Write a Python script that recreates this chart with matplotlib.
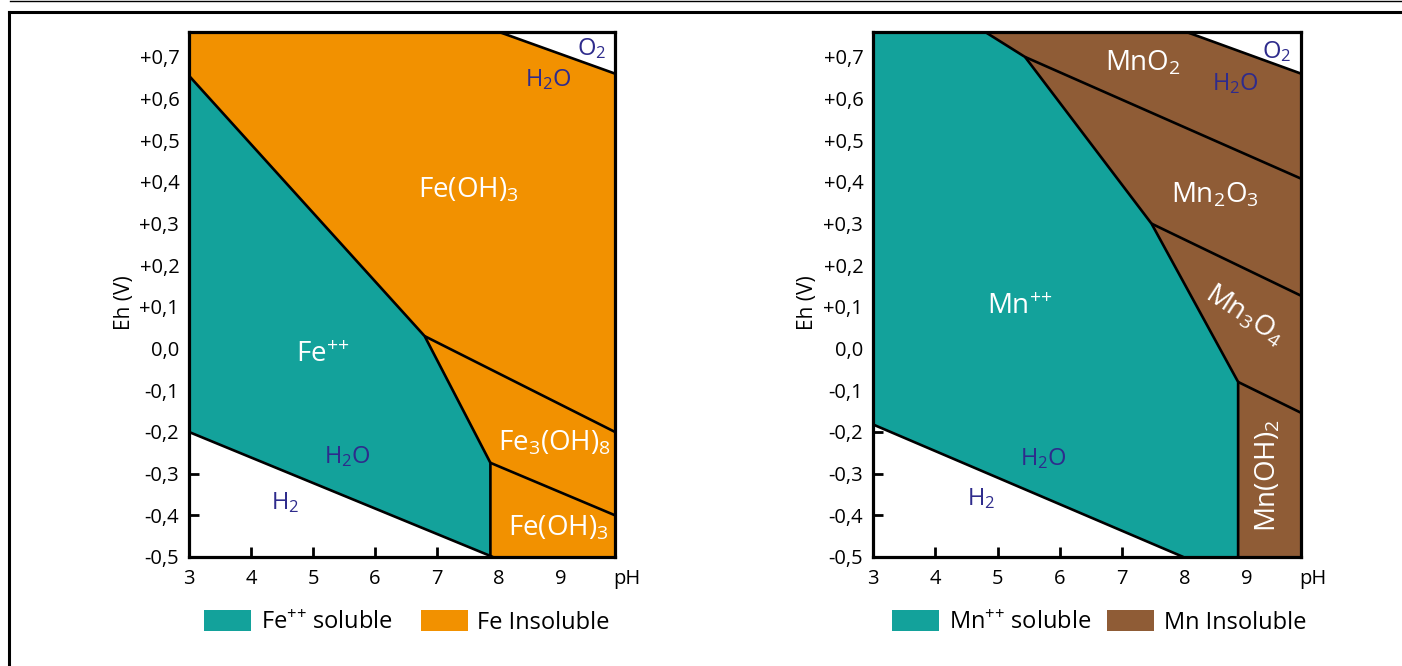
import matplotlib
matplotlib.use('Agg')
import matplotlib.pyplot as plt
from matplotlib.patches import Patch, Polygon
from matplotlib.lines import Line2D

plt.rcParams['font.family'] = ['Open Sans', 'DejaVu Sans']
plt.rcParams['mathtext.fontset'] = 'custom'
plt.rcParams['mathtext.rm'] = 'Open Sans'
plt.rcParams['mathtext.it'] = 'Open Sans:italic'
plt.rcParams['mathtext.bf'] = 'Open Sans:bold'

TEAL = '#13A29B'
ORANGE = '#F29100'
BROWN = '#8F5C36'
BLUE = '#2E2B8C'

PH_MIN, PH_MAX = 3.0, 9.87
EH_MIN, EH_MAX = -0.5, 0.76

ph_ticks = [3, 4, 5, 6, 7, 8, 9]
eh_ticks = [-0.5, -0.4, -0.3, -0.2, -0.1, 0.0, 0.1, 0.2, 0.3, 0.4, 0.5, 0.6, 0.7]
eh_labels = ['-0,5', '-0,4', '-0,3', '-0,2', '-0,1', '0,0',
             '+0,1', '+0,2', '+0,3', '+0,4', '+0,5', '+0,6', '+0,7']

# --- Fe diagram boundaries (pH, Eh) ---
fe_soluble_ph = [3.0, 6.80, 7.86, 7.86]
fe_soluble_eh = [0.655, 0.03, -0.274, -0.5]
fe_fe3oh8_top_ph = [6.80, PH_MAX]
fe_fe3oh8_top_eh = [0.03, -0.20]
fe_fe3oh8_bot_ph = [7.86, PH_MAX]
fe_fe3oh8_bot_eh = [-0.274, -0.40]
fe_h2_ph = [3.0, 7.90]
fe_h2_eh = [-0.20, -0.50]
fe_o2_ph = [8.0, PH_MAX]
fe_o2_eh = [0.76, 0.66]

# --- Mn diagram boundaries (pH, Eh) ---
mn_soluble_ph = [4.80, 5.44, 7.47, 8.86, 8.86]
mn_soluble_eh = [0.76, 0.70, 0.30, -0.08, -0.5]
mn_mno2_ph = [5.44, PH_MAX]
mn_mno2_eh = [0.70, 0.408]
mn_mn2o3_ph = [7.47, PH_MAX]
mn_mn2o3_eh = [0.30, 0.127]
mn_mn3o4_ph = [8.86, PH_MAX]
mn_mn3o4_eh = [-0.08, -0.154]
mn_h2_ph = [3.0, 7.98]
mn_h2_eh = [-0.182, -0.50]
mn_o2_ph = [8.03, PH_MAX]
mn_o2_eh = [0.76, 0.66]

fig = plt.figure(figsize=(14.02, 6.66), dpi=100)
ax_fe = fig.add_axes([0.1348, 0.1637, 0.3039, 0.7883])
ax_mn = fig.add_axes([0.6227, 0.1637, 0.3053, 0.7883])


def setup_axes(ax):
    ax.set_xlim(PH_MIN, PH_MAX)
    ax.set_ylim(EH_MIN, EH_MAX)
    ax.set_xticks(ph_ticks)
    ax.set_xticklabels([str(t) for t in ph_ticks])
    ax.set_yticks(eh_ticks)
    ax.set_yticklabels(eh_labels)
    ax.tick_params(direction='in', length=7, width=2, labelsize=14.5,
                   colors='black', pad=7)
    ax.tick_params(axis='x', pad=9)
    for sp in ax.spines.values():
        sp.set_linewidth(2.3)
        sp.set_zorder(6)
    ax.annotate('pH', xy=(1.028, 0), xycoords='axes fraction',
                xytext=(0, -9), textcoords='offset points',
                ha='center', va='top', fontsize=14.5)
    ax.text(-0.152, 0.484, 'Eh (V)', transform=ax.transAxes, rotation=90,
            ha='center', va='center', fontsize=15)


def boundary(ax, xs, ys):
    ax.plot(xs, ys, color='black', lw=1.9, zorder=4, solid_capstyle='butt')


# ===== Fe panel =====
ax = ax_fe
setup_axes(ax)
teal_pts = [(PH_MIN, fe_h2_eh[0])] + list(zip(fe_soluble_ph, fe_soluble_eh)) + \
           [(fe_h2_ph[1], fe_h2_eh[1])]
ax.add_patch(Polygon(teal_pts, closed=True, fc=TEAL, ec='none', zorder=3))
orange_pts = [(PH_MIN, fe_soluble_eh[0]), (PH_MIN, EH_MAX), (fe_o2_ph[0], fe_o2_eh[0]),
              (fe_o2_ph[1], fe_o2_eh[1]), (PH_MAX, EH_MIN)] + \
             list(zip(fe_soluble_ph[::-1], fe_soluble_eh[::-1]))
ax.add_patch(Polygon(orange_pts, closed=True, fc=ORANGE, ec='none', zorder=3))
for xs, ys in [(fe_soluble_ph, fe_soluble_eh), (fe_fe3oh8_top_ph, fe_fe3oh8_top_eh),
               (fe_fe3oh8_bot_ph, fe_fe3oh8_bot_eh), (fe_h2_ph, fe_h2_eh),
               (fe_o2_ph, fe_o2_eh)]:
    boundary(ax, xs, ys)

big = dict(color='white', fontsize=20, ha='center', va='center', zorder=5)
small = dict(color=BLUE, fontsize=17, ha='center', va='center', zorder=5)
ax.text(7.5, 0.38, r'Fe(OH)$_\mathregular{3}$', **big)
ax.text(5.15, -0.016, r'Fe$^{{+}{+}}$', **big)
ax.text(8.9, -0.228, r'Fe$_\mathregular{3}$(OH)$_\mathregular{8}$', **big)
ax.text(8.95, -0.43, r'Fe(OH)$_\mathregular{3}$', **big)
ax.text(8.8, 0.645, r'H$_\mathregular{2}$O', **small)
ax.text(9.5, 0.72, r'O$_\mathregular{2}$', **small)
ax.text(5.55, -0.26, r'H$_\mathregular{2}$O', **small)
ax.text(4.55, -0.37, r'H$_\mathregular{2}$', **small)

ax.legend(handles=[Patch(fc=TEAL, ec='none', label=r'Fe$^{{+}{+}}$ soluble'),
                   Patch(fc=ORANGE, ec='none', label='Fe Insoluble')],
          loc='center left', bbox_to_anchor=(0.035, -0.125), ncol=2, frameon=False,
          fontsize=17, handlelength=2.0, handleheight=1.0, handletextpad=0.4,
          columnspacing=1.2, borderpad=0, borderaxespad=0)

# ===== Mn panel =====
ax = ax_mn
setup_axes(ax)
teal_pts = [(PH_MIN, mn_h2_eh[0]), (PH_MIN, EH_MAX)] + \
           list(zip(mn_soluble_ph, mn_soluble_eh)) + [(mn_h2_ph[1], mn_h2_eh[1])]
ax.add_patch(Polygon(teal_pts, closed=True, fc=TEAL, ec='none', zorder=3))
brown_pts = [(mn_o2_ph[0], mn_o2_eh[0]), (mn_o2_ph[1], mn_o2_eh[1]), (PH_MAX, EH_MIN)] + \
            list(zip(mn_soluble_ph[::-1], mn_soluble_eh[::-1]))
ax.add_patch(Polygon(brown_pts, closed=True, fc=BROWN, ec='none', zorder=3))
for xs, ys in [(mn_soluble_ph, mn_soluble_eh), (mn_mno2_ph, mn_mno2_eh),
               (mn_mn2o3_ph, mn_mn2o3_eh), (mn_mn3o4_ph, mn_mn3o4_eh),
               (mn_h2_ph, mn_h2_eh), (mn_o2_ph, mn_o2_eh)]:
    boundary(ax, xs, ys)

ax.text(7.33, 0.685, r'MnO$_\mathregular{2}$', **big)
ax.text(8.49, 0.367, r'Mn$_\mathregular{2}$O$_\mathregular{3}$', **big)
ax.text(8.97, 0.08, r'Mn$_\mathregular{3}$O$_\mathregular{4}$', rotation=-33, **big)
ax.text(9.34, -0.305, r'Mn(OH)$_\mathregular{2}$', rotation=90, **big)
ax.text(5.36, 0.10, r'Mn$^{{+}{+}}$', **big)
ax.text(8.81, 0.636, r'H$_\mathregular{2}$O', **small)
ax.text(9.48, 0.712, r'O$_\mathregular{2}$', **small)
ax.text(5.73, -0.264, r'H$_\mathregular{2}$O', **small)
ax.text(4.73, -0.36, r'H$_\mathregular{2}$', **small)

ax.legend(handles=[Patch(fc=TEAL, ec='none', label=r'Mn$^{{+}{+}}$ soluble'),
                   Patch(fc=BROWN, ec='none', label='Mn Insoluble')],
          loc='center left', bbox_to_anchor=(0.044, -0.125), ncol=2, frameon=False,
          fontsize=17, handlelength=2.0, handleheight=1.0, handletextpad=0.4,
          columnspacing=0.7, borderpad=0, borderaxespad=0)

# outer frame lines
W, H = 1402.0, 666.0
fig.add_artist(Line2D([10 / W, 1.0], [1 - 0.6 / H, 1 - 0.6 / H], color='black', lw=1.0,
                      transform=fig.transFigure))
fig.add_artist(Line2D([9 / W, 1.0], [1 - 11.5 / H, 1 - 11.5 / H], color='black', lw=2.2,
                      transform=fig.transFigure, solid_capstyle='projecting'))
fig.add_artist(Line2D([9 / W, 9 / W], [0, 1 - 11.5 / H], color='black', lw=2.2,
                      transform=fig.transFigure, solid_capstyle='projecting'))

fig.savefig('out.png', dpi=100)
